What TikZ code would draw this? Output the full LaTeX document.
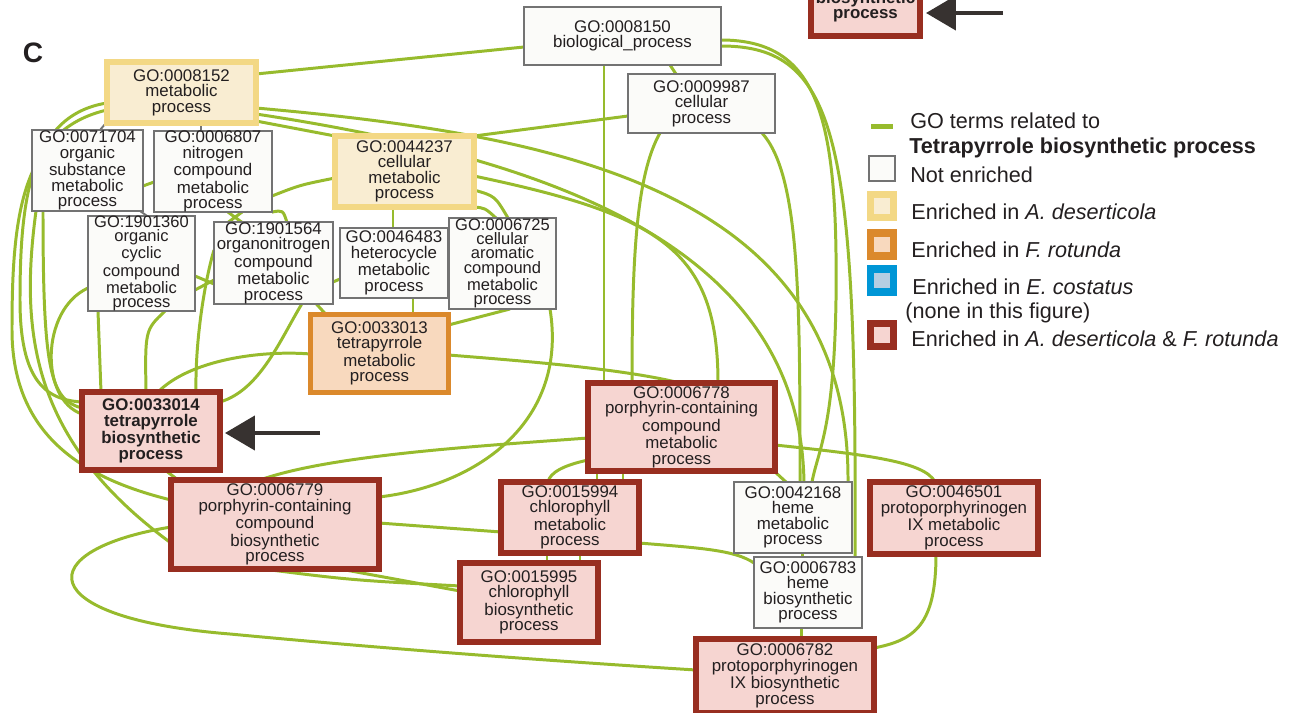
\documentclass[tikz,border=0pt]{standalone}
\usepackage{fontspec}
\setmainfont{Liberation Sans}
\usetikzlibrary{arrows.meta,backgrounds}
\definecolor{GOGreen}{RGB}{151,187,45}
\definecolor{YelEdge}{RGB}{243,216,133}
\definecolor{YelFill}{RGB}{249,237,210}
\definecolor{OrEdge}{RGB}{219,137,44}
\definecolor{OrFill}{RGB}{248,217,190}
\definecolor{RedEdge}{RGB}{152,46,32}
\definecolor{RedFill}{RGB}{246,213,209}
\definecolor{BlueEdge}{RGB}{0,150,214}
\definecolor{BlueFill}{RGB}{182,206,226}
\definecolor{PlainEdge}{RGB}{115,115,115}
\definecolor{PlainFill}{RGB}{251,251,249}
\definecolor{ArrowGray}{RGB}{55,50,48}
\definecolor{TermText}{RGB}{35,31,32}
\tikzset{
  term/.style={rectangle,inner sep=0pt,outer sep=0pt,align=center,text=TermText,
    font=\fontsize{9.6}{8.8}\selectfont},
  tallterm/.style={font=\fontsize{9.4}{8.2}\selectfont},
  plainterm/.style={term,draw=PlainEdge,fill=PlainFill,line width=1.1pt},
  adterm/.style={term,draw=YelEdge,fill=YelFill,line width=3.6pt},
  frterm/.style={term,draw=OrEdge,fill=OrFill,line width=2.8pt},
  bothterm/.style={term,draw=RedEdge,fill=RedFill,line width=3.6pt},
  link/.style={draw=GOGreen,line width=1.7pt},
  graylink/.style={draw=PlainEdge,line width=1.1pt},
  pointer/.style={draw=ArrowGray,line width=2.6pt,-{Triangle[length=0.6cm,width=0.68cm]}},
  keybox/.style={minimum width=0.46cm,minimum height=0.46cm,inner sep=0pt,line width=4pt},
  keytext/.style={anchor=west,inner sep=0pt,text=TermText,font=\fontsize{12.3}{14}\selectfont},
}

\begin{document}
\begin{tikzpicture}[x=0.02cm,y=-0.02cm]
\useasboundingbox (0,0) rectangle (1299,713);

% panel letter
\node[font=\fontsize{16}{16}\selectfont\bfseries,text=TermText] (panel) at (33,53) {C};

% GO terms
\node[plainterm,minimum width=3.94cm,minimum height=1.16cm] (bp) at (622.5,36) {GO:0008150\\biological\_process};
\node[plainterm,minimum width=2.94cm,minimum height=1.18cm] (cp) at (701.5,103.5) {GO:0009987\\cellular\\process};
\node[adterm,minimum width=2.98cm,minimum height=1.22cm] (mp) at (181.5,92.5) {GO:0008152\\metabolic\\process};
\node[plainterm,minimum width=2.22cm,minimum height=1.62cm] (osm) at (87.5,170.5) {GO:0071704\\organic\\substance\\metabolic\\process};
\node[plainterm,minimum width=2.36cm,minimum height=1.62cm] (ncm) at (213,171.5) {GO:0006807\\nitrogen\\compound\\metabolic\\process};
\node[adterm,minimum width=2.78cm,minimum height=1.42cm] (cmp) at (404.5,171.5) {GO:0044237\\cellular\\metabolic\\process};
\node[plainterm,tallterm,minimum width=2.14cm,minimum height=1.82cm] (occ) at (141.5,263.5) {GO:1901360\\organic\\cyclic\\compound\\metabolic\\process};
\node[plainterm,minimum width=2.38cm,minimum height=1.60cm] (onc) at (273.5,263) {GO:1901564\\organonitrogen\\compound\\metabolic\\process};
\node[plainterm,minimum width=2.16cm,minimum height=1.40cm] (het) at (394,263) {GO:0046483\\heterocycle\\metabolic\\process};
\node[plainterm,tallterm,minimum width=2.14cm,minimum height=1.82cm] (cac) at (502.5,263.5) {GO:0006725\\cellular\\aromatic\\compound\\metabolic\\process};
\node[frterm,minimum width=2.76cm,minimum height=1.56cm] (tmp) at (379.5,353.5) {GO:0033013\\tetrapyrrole\\metabolic\\process};
\node[bothterm,minimum width=2.76cm,minimum height=1.56cm,font=\fontsize{9.6}{8.8}\selectfont\bfseries] (tbp) at (151,431) {GO:0033014\\tetrapyrrole\\biosynthetic\\process};
\node[bothterm,minimum width=3.74cm,minimum height=1.76cm] (pcm) at (681.5,427) {GO:0006778\\porphyrin-containing\\compound\\metabolic\\process};
\node[bothterm,minimum width=4.16cm,minimum height=1.78cm] (pcb) at (275,524.5) {GO:0006779\\porphyrin-containing\\compound\\biosynthetic\\process};
\node[bothterm,minimum width=2.76cm,minimum height=1.42cm] (chm) at (570,517.5) {GO:0015994\\chlorophyll\\metabolic\\process};
\node[bothterm,minimum width=2.76cm,minimum height=1.58cm] (chb) at (529,602.5) {GO:0015995\\chlorophyll\\biosynthetic\\process};
\node[plainterm,minimum width=2.36cm,minimum height=1.42cm] (hem) at (793,517.5) {GO:0042168\\heme\\metabolic\\process};
\node[plainterm,minimum width=2.16cm,minimum height=1.42cm] (hbp) at (808,592.5) {GO:0006783\\heme\\biosynthetic\\process};
\node[bothterm,minimum width=3.36cm,minimum height=1.44cm] (ppm) at (954,518) {GO:0046501\\protoporphyrinogen\\IX metabolic\\process};
\node[bothterm,minimum width=3.56cm,minimum height=1.48cm] (ppb) at (785,676) {GO:0006782\\protoporphyrinogen\\IX biosynthetic\\process};
\node[bothterm,minimum width=2.18cm,minimum height=1.18cm,font=\fontsize{9.6}{8.8}\selectfont\bfseries] (tbpcut) at (865.5,6.5) {biosynthetic\\process};

% arrows to the term of interest
\coordinate (tail1) at (320,433);
\coordinate (tail2) at (1003,13);
\draw[pointer,shorten >=0.1cm] (tail1) -- (tbp.east |- tail1);
\draw[pointer,shorten >=0.12cm] (tail2) -- (tbpcut.east |- tail2);

% relations
\begin{pgfonlayer}{background}
\draw[link] (bp.west |- 0,47) -- (mp.east |- 0,74);
\draw[link] (bp.south -| 670,0) -- (cp.north -| 676,0);
\draw[link] (bp.south -| 604,0) -- (pcm.north -| 604,0);
\draw[link] (bp.east |- 0,40) .. controls (820,40) and (838,120) .. (836,300) .. controls (834,430) and (818,450) .. (hem.north -| 812,0);
\draw[link] (bp.east |- 0,46) .. controls (838,46) and (857,140) .. (hbp.north -| 855,0);
\draw[link] (cp.south -| 762,0) .. controls (800,175) and (800,300) .. (hem.north -| 800,0);
\draw[link] (cp.south -| 660,0) .. controls (636,175) and (632,260) .. (pcm.north -| 632,0);
\draw[link] (cp.west |- 0,116) -- (cmp.north east);
\draw[link] (mp.east |- 0,108) .. controls (560,135) and (850,190) .. (hem.north -| 848,0);
\draw[link] (mp.east |- 0,114) .. controls (560,160) and (800,250) .. (hem.north -| 804,0);
\draw[link] (mp.east |- 0,121) -- (cmp.north west);
\draw[link] (cmp.east |- 0,176) .. controls (660,215) and (718,250) .. (pcm.north -| 718,0);
\draw[link] (ncm.east |- 0,196) .. controls (300,185) .. (cmp.west |- 0,178);
\draw[link] (cmp.south -| 393,0) -- (het.north -| 393,0);
\draw[link] (cmp.east |- 0,190) .. controls (495,196) .. (cac.north -| 508,0);
\draw[link] (cmp.south east) .. controls (485,208) .. (cac.north -| 496,0);
\draw[link] (cac.south -| 550,0) .. controls (568,420) and (480,485) .. (pcb.east |- 0,497);
\draw[link] (tmp.east |- 0,325) -- (cac.south -| 510,0);
\draw[link] (het.south -| 413,0) -- (tmp.north -| 413,0);
\draw[link] (tmp.east |- 0,355) .. controls (510,360) and (620,368) .. (pcm.north -| 680,0);
\draw[link] (pcm.east |- 0,445) .. controls (870,455) and (925,462) .. (ppm.north -| 935,0);
\draw[link] (pcm.south -| 774,0) -- (hem.north -| 786,0);
\draw[link] (hem.south -| 802,0) -- (hbp.north -| 802,0);
\draw[link] (hbp.south -| 801,0) -- (ppb.north -| 801,0);
\draw[link] (ppm.south -| 936,0) .. controls (936,625) and (915,640) .. (ppb.east |- 0,648);
\draw[link] (chm.east |- 0,543) .. controls (700,548) and (735,550) .. (hbp.west |- 0,563);
\draw[link] (pcm.west |- 0,438) .. controls (480,446) and (330,455) .. (pcb.north -| 260,0);
\draw[link] (pcm.west |- 0,460) .. controls (565,465) and (550,472) .. (chm.north -| 548,0);
\draw[link] (pcm.south -| 597,0) -- (chm.north -| 597,0);
\draw[link] (pcm.south -| 623,0) -- (chm.north -| 623,0);
\draw[link] (chm.south -| 547,0) -- (chb.north -| 547,0);
\draw[link] (chm.south -| 580,0) -- (chb.north -| 580,0);
\draw[link] (pcb.east |- 0,523) -- (chm.west |- 0,532);
\draw[link] (pcb.south -| 263,0) .. controls (350,580) .. (chb.west |- 0,586);
\draw[link] (pcb.south -| 340,0) -- (chb.west |- 0,591);
\draw[link] (pcb.west |- 0,527) .. controls (30,550) and (30,618) .. (230,634) .. controls (420,652) and (600,664) .. (ppb.west |- 0,670);
% left side
\draw[link] (mp.west |- 0,103) .. controls (30,115) and (20,200) .. (20,300) .. controls (20,380) and (45,400) .. (tbp.west |- 0,402);
\draw[link] (mp.west |- 0,110) .. controls (20,130) and (12,220) .. (12,330) .. controls (12,440) and (90,480) .. (pcb.west |- 0,500);
\draw[link] (osm.south -| 43,0) .. controls (43,370) and (50,400) .. (tbp.west |- 0,408);
\draw[link] (osm.south -| 36,0) .. controls (20,330) and (30,440) .. (pcb.west |- 0,543);
\draw[link] (occ.west |- 0,288) .. controls (40,310) and (40,400) .. (tbp.west |- 0,414);
\draw[link] (occ.south -| 98,0) -- (tbp.north -| 101,0);
\draw[link] (occ.south -| 165,0) .. controls (145,330) .. (tbp.north -| 146,0);
\draw[link] (onc.west |- 0,250) .. controls (205,280) and (195,340) .. (tbp.north -| 196,0);
\draw[link] (onc.south -| 302,0) .. controls (280,340) and (260,390) .. (tbp.east |- 0,402);
\draw[link] (tbp.north -| 158,0) .. controls (190,360) and (260,350) .. (tmp.west |- 0,354);
\draw[link] (tbp.south -| 165,0) -- (pcb.north -| 178,0);
\draw[link] (occ.east |- 0,276) -- (onc.west |- 0,284);
\draw[link] (occ.east |- 0,290) -- (onc.west |- 0,280);
\draw[link] (ncm.south -| 228,0) -- (onc.north -| 242,0);
\draw[link] (ncm.south -| 242,0) -- (onc.north -| 228,0);
\draw[link] (ncm.south east) .. controls (283,210) .. (onc.north -| 287,0);
\draw[link] (osm.east |- 0,186) -- (ncm.west |- 0,182);
\draw[link] (onc.east |- 0,282) -- (het.west |- 0,279);
\draw[link] (onc.south -| 316,0) -- (tmp.north -| 326,0);
\draw[graylink] (mp.south -| 106,0) -- (osm.north -| 100,0);
\draw[graylink] (mp.south -| 201,0) -- (ncm.north -| 201,0);
\draw[graylink] (osm.south -| 140,0) -- (occ.north -| 147,0);
\end{pgfonlayer}

% legend
\node[fill=GOGreen,minimum width=0.44cm,minimum height=0.1cm,inner sep=0pt] (keyline) at (882,127) {};
\node[keybox,draw=PlainEdge,fill=PlainFill,line width=1.1pt,minimum width=0.52cm,minimum height=0.5cm] (keyplain) at (882,168.5) {};
\node[keybox,draw=YelEdge,fill=YelFill] (keyad) at (882,206) {};
\node[keybox,draw=OrEdge,fill=OrFill] (keyfr) at (882,244.5) {};
\node[keybox,draw=BlueEdge,fill=BlueFill] (keyec) at (882,280.5) {};
\node[keybox,draw=RedEdge,fill=RedFill] (keyboth) at (882,335) {};
\node[keytext] (keyt1) at (910,121) {GO terms related to};
\node[keytext,font=\fontsize{12.3}{14}\selectfont\bfseries] (keyt2) at (909,148) {Tetrapyrrole biosynthetic process};
\node[keytext] (keyt3) at (910,175) {Not enriched};
\node[keytext] (keyt4) at (911,212) {Enriched in \textit{A. deserticola}};
\node[keytext] (keyt5) at (911,250) {Enriched in \textit{F. rotunda}};
\node[keytext] (keyt6) at (912,287) {Enriched in \textit{E. costatus}};
\node[keytext] (keyt7) at (905,313) {(none in this figure)};
\node[keytext] (keyt8) at (911,339) {Enriched in \textit{A. deserticola} \& \textit{F. rotunda}};
\end{tikzpicture}
\end{document}
